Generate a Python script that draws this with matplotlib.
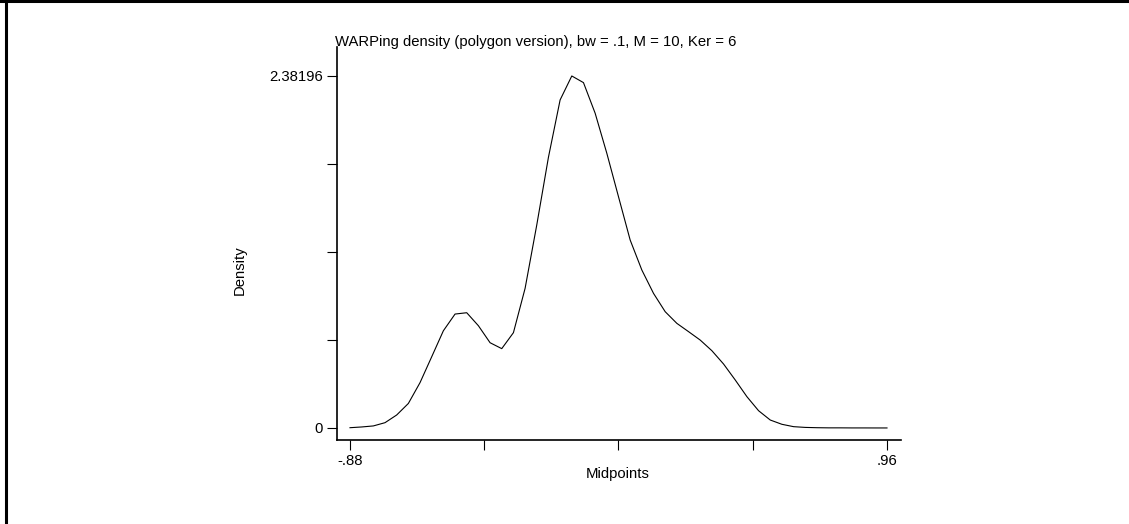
import matplotlib.pyplot as plt
from matplotlib.lines import Line2D

# grid of midpoints, step .04 from -.88 to .96
midpoints = [round(-0.88 + 0.04 * i, 2) for i in range(47)]
density = [0.002, 0.007, 0.014, 0.036, 0.088, 0.166, 0.307, 0.482, 0.658, 0.771,
           0.780, 0.692, 0.577, 0.537, 0.645, 0.945, 1.374, 1.832, 2.220, 2.38196,
           2.337, 2.130, 1.859, 1.565, 1.272, 1.069, 0.911, 0.787, 0.708, 0.652,
           0.595, 0.523, 0.433, 0.325, 0.212, 0.117, 0.054, 0.025, 0.009, 0.004,
           0.002, 0.001, 0.001, 0.0005, 0.0005, 0.0003, 0.0003]

x_ticks = [-0.88, -0.42, 0.04, 0.5, 0.96]
x_ticklabels = ['-.88', '', '', '', '.96']
y_max = 2.38196
y_ticks = [0, y_max / 4, y_max / 2, 3 * y_max / 4, y_max]
y_ticklabels = ['0', '', '', '', '2.38196']

plt.rcParams['font.family'] = ['Liberation Sans', 'DejaVu Sans']
fs = 10.7

fig = plt.figure(figsize=(11.29, 5.24), dpi=100)
ax = fig.add_axes([337 / 1129, 1 - 440 / 524, 564 / 1129, 393 / 524])

ax.plot(midpoints, density, color='black', linewidth=0.8)
ax.set_xlim(-0.9245, 1.008)
ax.set_ylim(-0.0812, 2.578)

ax.set_xticks(x_ticks)
ax.set_xticklabels(x_ticklabels)
ax.set_yticks(y_ticks)
ax.set_yticklabels(y_ticklabels)
ax.tick_params(direction='out', length=7, width=0.8, labelsize=fs, pad=3)

for s in ['top', 'right']:
    ax.spines[s].set_visible(False)
for s in ['left', 'bottom']:
    ax.spines[s].set_linewidth(1.2)

ax.set_xlabel('Midpoints', fontsize=fs)
ax.xaxis.set_label_coords((618 - 337) / 564, (440 - 474) / 393)
ax.xaxis.label.set_va('center')
ax.set_ylabel('Density', fontsize=fs)
ax.yaxis.set_label_coords((240 - 337) / 564, (440 - 270) / 393)
ax.yaxis.label.set_va('center')

fig.text(335 / 1129, 1 - 42 / 524, 'WARPing density (polygon version), bw = .1, M = 10, Ker = 6',
         fontsize=fs, va='center', ha='left')

# outer frame (top and left edges)
fig.add_artist(Line2D([0, 1], [1 - 1 / 524, 1 - 1 / 524], color='black', linewidth=2.2))
fig.add_artist(Line2D([6 / 1129, 6 / 1129], [0, 1], color='black', linewidth=2.2))

fig.savefig('out.png', dpi=100)
